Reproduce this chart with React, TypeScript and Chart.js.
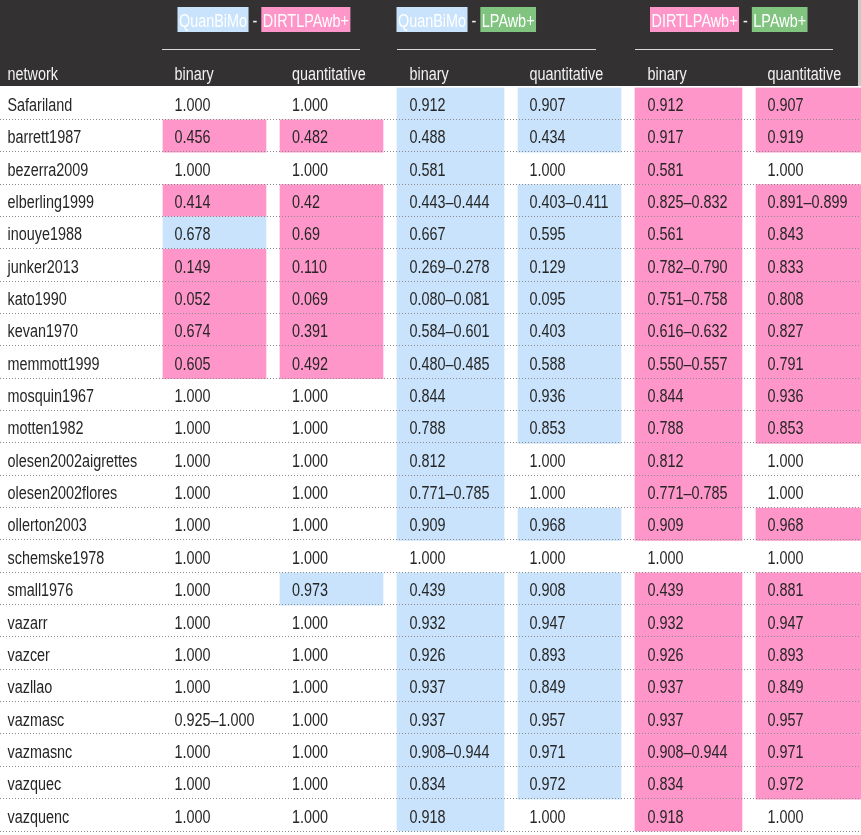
import React, { useEffect, useRef } from "react";
import { Chart, registerables } from "chart.js";

Chart.register(...registerables);

// ---------- DATA ----------
const networks = [
  "Safariland", "barrett1987", "bezerra2009", "elberling1999", "inouye1988",
  "junker2013", "kato1990", "kevan1970", "memmott1999", "mosquin1967",
  "motten1982", "olesen2002aigrettes", "olesen2002flores", "ollerton2003",
  "schemske1978", "small1976", "vazarr", "vazcer", "vazllao", "vazmasc",
  "vazmasnc", "vazquec", "vazquenc",
];

const groupPairs = [
  ["QuanBiMo", "DIRTLPAwb+"],
  ["QuanBiMo", "LPAwb+"],
  ["DIRTLPAwb+", "LPAwb+"],
];
const subHeaders = ["binary", "quantitative"];
const firstHeader = "network";

// values per column
const qdBinary = ["1.000", "0.456", "1.000", "0.414", "0.678", "0.149", "0.052", "0.674", "0.605", "1.000", "1.000", "1.000", "1.000", "1.000", "1.000", "1.000", "1.000", "1.000", "1.000", "0.925–1.000", "1.000", "1.000", "1.000"];
const qdQuant = ["1.000", "0.482", "1.000", "0.42", "0.69", "0.110", "0.069", "0.391", "0.492", "1.000", "1.000", "1.000", "1.000", "1.000", "1.000", "0.973", "1.000", "1.000", "1.000", "1.000", "1.000", "1.000", "1.000"];
const qlBinary = ["0.912", "0.488", "0.581", "0.443–0.444", "0.667", "0.269–0.278", "0.080–0.081", "0.584–0.601", "0.480–0.485", "0.844", "0.788", "0.812", "0.771–0.785", "0.909", "1.000", "0.439", "0.932", "0.926", "0.937", "0.937", "0.908–0.944", "0.834", "0.918"];
const qlQuant = ["0.907", "0.434", "1.000", "0.403–0.411", "0.595", "0.129", "0.095", "0.403", "0.588", "0.936", "0.853", "1.000", "1.000", "0.968", "1.000", "0.908", "0.947", "0.893", "0.849", "0.957", "0.971", "0.972", "1.000"];
const dlBinary = ["0.912", "0.917", "0.581", "0.825–0.832", "0.561", "0.782–0.790", "0.751–0.758", "0.616–0.632", "0.550–0.557", "0.844", "0.788", "0.812", "0.771–0.785", "0.909", "1.000", "0.439", "0.932", "0.926", "0.937", "0.937", "0.908–0.944", "0.834", "0.918"];
const dlQuant = ["0.907", "0.919", "1.000", "0.891–0.899", "0.843", "0.833", "0.808", "0.827", "0.791", "0.936", "0.853", "1.000", "1.000", "0.968", "1.000", "0.881", "0.947", "0.893", "0.849", "0.957", "0.971", "0.972", "1.000"];

// highlighted method per cell (Q = QuanBiMo, D = DIRTLPAwb+, "" = none)
const qdBinaryHl = ["", "D", "", "D", "Q", "D", "D", "D", "D", "", "", "", "", "", "", "", "", "", "", "", "", "", ""];
const qdQuantHl = ["", "D", "", "D", "D", "D", "D", "D", "D", "", "", "", "", "", "", "Q", "", "", "", "", "", "", ""];
const qlBinaryHl = ["Q", "Q", "Q", "Q", "Q", "Q", "Q", "Q", "Q", "Q", "Q", "Q", "Q", "Q", "", "Q", "Q", "Q", "Q", "Q", "Q", "Q", "Q"];
const qlQuantHl = ["Q", "Q", "", "Q", "Q", "Q", "Q", "Q", "Q", "Q", "Q", "", "", "Q", "", "Q", "Q", "Q", "Q", "Q", "Q", "Q", ""];
const dlBinaryHl = ["D", "D", "D", "D", "D", "D", "D", "D", "D", "D", "D", "D", "D", "D", "", "D", "D", "D", "D", "D", "D", "D", "D"];
const dlQuantHl = ["D", "D", "", "D", "D", "D", "D", "D", "D", "D", "D", "", "", "D", "", "D", "D", "D", "D", "D", "D", "D", ""];

// ---------- STYLE / LAYOUT ----------
const W = 861;
const H = 835;
const HEADER_H = 87.5;
const BOTTOM_PAD = 3.5;
const METHOD_COLORS: Record<string, string> = {
  QuanBiMo: "#c8e3fb",
  "DIRTLPAwb+": "#ff96c9",
  "LPAwb+": "#80c480",
};
const HL_COLORS: Record<string, string> = { Q: METHOD_COLORS.QuanBiMo, D: METHOD_COLORS["DIRTLPAwb+"] };
const HEADER_BG = "#333132";
const HEADER_TEXT = "#f2f2f2";
const BODY_TEXT = "#262626";
const FONT_FAMILY = '"Liberation Sans", Arial, sans-serif';
const FONT_SIZE = 18;
const HSCALE = 0.8;
const VSCALE = 1.05;

const columns = [
  { values: qdBinary, hl: qdBinaryHl, edge: [163, 266], textX: 174.5 },
  { values: qdQuant, hl: qdQuantHl, edge: [280, 383], textX: 292 },
  { values: qlBinary, hl: qlBinaryHl, edge: [397, 504], textX: 409.5 },
  { values: qlQuant, hl: qlQuantHl, edge: [518, 621], textX: 529.5 },
  { values: dlBinary, hl: dlBinaryHl, edge: [635, 742], textX: 647.5 },
  { values: dlQuant, hl: dlQuantHl, edge: [756, 861], textX: 767.5 },
];
const NETWORK_X = 7.5;
const GROUP_LINES = [[162, 360], [397, 596], [635, 833]];
const GROUP_LABEL_X = [177.5, 396.5, 650];

function drawText(ctx: CanvasRenderingContext2D, text: string, x: number, baseline: number, color: string) {
  ctx.save();
  ctx.translate(x, baseline);
  ctx.scale(HSCALE, VSCALE);
  ctx.font = `${FONT_SIZE}px ${FONT_FAMILY}`;
  ctx.fillStyle = color;
  ctx.textBaseline = "alphabetic";
  ctx.textAlign = "left";
  ctx.fillText(text, 0, 0);
  ctx.restore();
}

function textWidth(ctx: CanvasRenderingContext2D, text: string) {
  ctx.save();
  ctx.font = `${FONT_SIZE}px ${FONT_FAMILY}`;
  const w = ctx.measureText(text).width * HSCALE;
  ctx.restore();
  return w;
}

const tablePlugin = {
  id: "tablePlugin",
  beforeDraw(chart: any) {
    const ctx: CanvasRenderingContext2D = chart.ctx;
    ctx.save();
    ctx.fillStyle = "#ffffff";
    ctx.fillRect(0, 0, chart.width, chart.height);
    ctx.restore();
  },
  afterDatasetsDraw(chart: any) {
    const ctx: CanvasRenderingContext2D = chart.ctx;
    const x = chart.scales.x;
    const y = chart.scales.y;
    const n = networks.length;
    const rowH = (y.bottom - y.top) / n;
    const headerBottom = y.top;

    // header background
    ctx.save();
    ctx.fillStyle = HEADER_BG;
    ctx.fillRect(0, 0, x.getPixelForValue(858), headerBottom - 1.5);
    ctx.fillStyle = "#c9c9c9";
    ctx.fillRect(x.getPixelForValue(858), 0, chart.width - x.getPixelForValue(858), headerBottom - 1.5);
    ctx.restore();

    // group labels
    groupPairs.forEach((pair, g) => {
      let cx = x.getPixelForValue(GROUP_LABEL_X[g]);
      const boxTop = 7;
      const boxH = 25;
      const base = 26.5;
      pair.forEach((name, k) => {
        const tw = textWidth(ctx, name);
        ctx.save();
        ctx.fillStyle = METHOD_COLORS[name];
        ctx.fillRect(cx, boxTop, tw + 3, boxH);
        ctx.restore();
        drawText(ctx, name, cx + 1.5, base, "#ffffff");
        cx += tw + 3;
        if (k === 0) {
          const sep = " - ";
          const sw = textWidth(ctx, sep);
          drawText(ctx, sep, cx, base, HEADER_TEXT);
          cx += sw;
        }
      });
      const [l0, l1] = GROUP_LINES[g];
      ctx.save();
      ctx.strokeStyle = "#d8d8d8";
      ctx.lineWidth = 1;
      ctx.beginPath();
      ctx.moveTo(x.getPixelForValue(l0), 49.5);
      ctx.lineTo(x.getPixelForValue(l1), 49.5);
      ctx.stroke();
      ctx.restore();
    });

    // column headers
    const hdrBase = 79.5;
    drawText(ctx, firstHeader, x.getPixelForValue(NETWORK_X), hdrBase, HEADER_TEXT);
    columns.forEach((col, ci) => {
      drawText(ctx, subHeaders[ci % 2], x.getPixelForValue(col.textX), hdrBase, HEADER_TEXT);
    });

    // dotted row separators
    ctx.save();
    ctx.strokeStyle = "#8a8a8a";
    ctx.lineWidth = 1;
    ctx.setLineDash([1, 2]);
    for (let i = 0; i < n; i++) {
      const yb = Math.round(y.getPixelForValue(i) + rowH / 2) - 0.5;
      ctx.beginPath();
      ctx.moveTo(0, yb);
      ctx.lineTo(chart.width, yb);
      ctx.stroke();
    }
    ctx.restore();

    // body text
    networks.forEach((name, i) => {
      const base = y.getPixelForValue(i) + 7.3;
      drawText(ctx, name, x.getPixelForValue(NETWORK_X), base, BODY_TEXT);
      columns.forEach((col) => {
        drawText(ctx, col.values[i], x.getPixelForValue(col.textX), base, BODY_TEXT);
      });
    });
  },
};

export default function App() {
  const ref = useRef<HTMLCanvasElement>(null);
  useEffect(() => {
    document.body.style.margin = "0";
    const canvas = ref.current;
    if (!canvas) return;
    const datasets = columns.map((col, ci) => ({
      label: `${groupPairs[Math.floor(ci / 2)].join(" - ")} ${subHeaders[ci % 2]}`,
      data: networks.map(() => [col.edge[0], col.edge[1]]),
      backgroundColor: col.hl.map((m) => (m ? HL_COLORS[m] : "rgba(0,0,0,0)")),
      borderWidth: 0,
      borderSkipped: false,
      grouped: false,
      barPercentage: 1,
      categoryPercentage: 1,
    }));
    const chart = new Chart(canvas, {
      type: "bar",
      data: { labels: networks, datasets: datasets as any },
      options: {
        indexAxis: "y",
        responsive: false,
        animation: false,
        maintainAspectRatio: false,
        layout: { padding: { top: HEADER_H, bottom: BOTTOM_PAD, left: 0, right: 0 } },
        scales: {
          x: { type: "linear", min: 0, max: W, display: false },
          y: { type: "category", display: false },
        },
        plugins: { legend: { display: false }, tooltip: { enabled: false } },
      },
      plugins: [tablePlugin],
    });
    return () => chart.destroy();
  }, []);
  return <canvas ref={ref} width={W} height={H} style={{ display: "block", width: W, height: H }} />;
}
